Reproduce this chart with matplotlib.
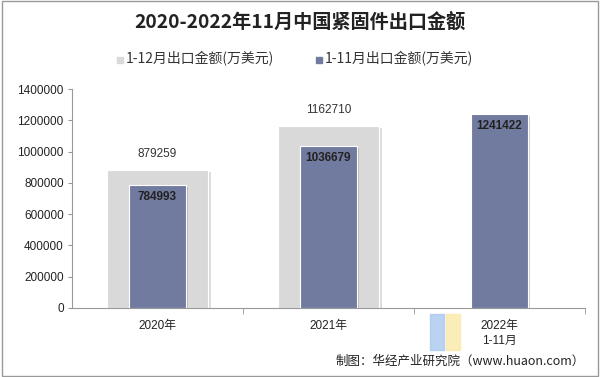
import matplotlib
matplotlib.use("Agg")
import matplotlib.pyplot as plt
import numpy as np
from matplotlib.patches import Rectangle

plt.rcParams['font.family'] = ['Liberation Sans', 'Noto Sans CJK SC', 'DejaVu Sans']

categories = ['2020年', '2021年', '2022年\n1-11月']
full_year = [879259, 1162710, None]
jan_nov = [784993, 1036679, 1241422]
yticks = [0, 200000, 400000, 600000, 800000, 1000000, 1200000, 1400000]
title = '2020-2022年11月中国紧固件出口金额'
legend_labels = ['1-12月出口金额(万美元)', '1-11月出口金额(万美元)']
source = '制图：华经产业研究院（www.huaon.com）'

gray = '#d9d9d9'
blue = '#717b9f'

fig = plt.figure(figsize=(6.0, 3.77), dpi=100)
fig.patches.append(Rectangle((0.003, 0.003), 0.994, 0.994, transform=fig.transFigure,
                             fill=False, edgecolor='#999999', linewidth=1.0))
top_px, bot_px = 89, 308
ax = fig.add_axes([72/600, 1-bot_px/377, (585-72)/600, (bot_px-top_px)/377])

x = np.arange(len(categories))
wg, wb = 0.585, 0.33
for i, v in enumerate(full_year):
    if v is None:
        continue
    ax.bar(x[i] + 0.02, v, wg, bottom=-12000, color='#bdbdbd', alpha=0.5, zorder=1)
    ax.bar(x[i], v, wg, color=gray, edgecolor='white', linewidth=0.8, zorder=2)
    ax.text(x[i], v + 65000, f'{v}', ha='center', va='bottom', fontsize=8.5, color='#333333')
for i, v in enumerate(jan_nov):
    ax.bar(x[i] + 0.015, v, wb, bottom=-12000, color='#8a8a8a', alpha=0.4, zorder=3)
    ax.bar(x[i], v, wb, color=blue, edgecolor='white', linewidth=0.8, zorder=4)
    ax.text(x[i], v - 40000, f'{v}', ha='center', va='top', fontsize=8.5, color='#222222',
            fontweight='bold', zorder=5)

ax.set_xlim(-0.5, 2.5)
ax.set_ylim(0, 1400000)
ax.set_yticks(yticks)
ax.set_yticklabels([str(t) for t in yticks], fontsize=8.5, color='#222222')
ax.set_xticks(x)
ax.set_xticklabels(categories, fontsize=8.5, color='#222222', linespacing=1.3)
ax.tick_params(axis='x', length=0, pad=9)
ax.set_xticks([0.5, 1.5, 2.5], minor=True)
ax.tick_params(axis='x', which='minor', length=4, color='#999999')
ax.tick_params(axis='y', length=3, color='#999999', pad=3)
for s in ['top', 'right']:
    ax.spines[s].set_visible(False)
ax.spines['left'].set_color('#999999')
ax.spines['bottom'].set_color('#999999')

fig.text(0.5, 1-22/377, title, ha='center', va='center', fontsize=13.8,
         family=['Noto Sans CJK SC'], fontweight='bold', color='#222222')
# legend
fig.patches.append(Rectangle((117/600, 1-63/377), 6/600, 6/377, transform=fig.transFigure,
                             color=gray))
fig.text(126/600, 1-59/377, legend_labels[0], ha='left', va='center', fontsize=10,
         family=['Noto Sans CJK SC'], color='#333333')
fig.patches.append(Rectangle((316/600, 1-63/377), 6/600, 6/377, transform=fig.transFigure,
                             color=blue))
fig.text(325/600, 1-59/377, legend_labels[1], ha='left', va='center', fontsize=10,
         family=['Noto Sans CJK SC'], color='#333333')

# watermark logo shapes
fig.patches.append(Rectangle((430/600, 1-350/377), 14/600, 36/377, transform=fig.transFigure,
                             color='#a9c8f0', alpha=0.8, zorder=0))
fig.patches.append(Rectangle((446/600, 1-350/377), 14/600, 36/377, transform=fig.transFigure,
                             color='#fbe9a6', alpha=0.8, zorder=0))

fig.text(585/600, 1-361/377, source, ha='right', va='center', fontsize=9,
         family=['Noto Sans CJK SC', 'Liberation Sans'], color='#222222')

fig.savefig('out.png', dpi=100)
